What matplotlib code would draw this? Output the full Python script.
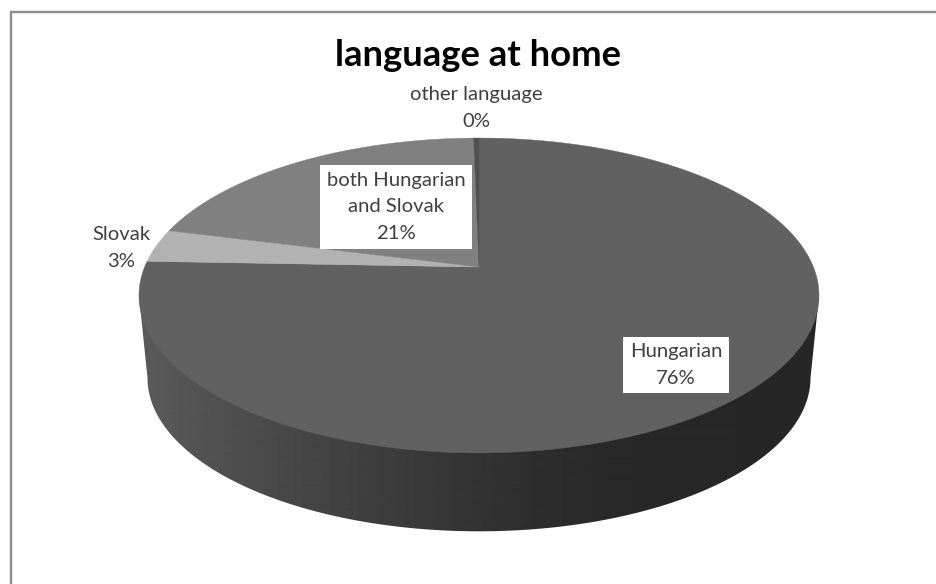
import matplotlib
matplotlib.use("Agg")
import matplotlib.pyplot as plt
import numpy as np
from matplotlib.patches import Polygon

plt.rcParams['font.family'] = ['Lato', 'DejaVu Sans']

title = "language at home"
labels = ["Hungarian", "Slovak", "both Hungarian\nand Slovak", "other language"]
values = [75.6, 3.4, 20.7, 0.3]
colors = ["#616161", "#b2b2b2", "#808080", "#505050"]

# tilted disc geometry, in pixels
CX, CY = 479, 267
K = 0.181
A, B = 152.3, 334.4
DROP, SHRINK = 83, 0.975


def rim(theta, drop=0, scale=1.0):
    # angle runs clockwise from twelve o'clock
    d = 1 + K * np.cos(theta)
    x = CX + scale * B * np.sin(theta) / d
    y = CY + drop - scale * A * np.cos(theta) / d
    return np.column_stack([x, y])


fig = plt.figure(figsize=(9.36, 5.84), dpi=100)
ax = fig.add_axes([0, 0, 1, 1])

# side wall, shaded left to right; its top edge hides under the top face
t0 = np.arccos(-K)
front = np.linspace(t0, 2 * np.pi - t0, 300)
side_pts = np.vstack([rim(front[:1]), rim(front, DROP, SHRINK), rim(front[-1:])])
px = np.arange(130, 830)
shade = np.interp(px, [145, 300, 450, 530, 620, 820], [0x5a, 0x46, 0x36, 0x2e, 0x28, 0x26])
side_clip = Polygon(side_pts, closed=True, fc="none", ec="none", transform=ax.transData)
ax.add_patch(side_clip)
im = ax.imshow(shade[np.newaxis, :], extent=[130, 830, 540, 280], aspect="auto",
               cmap="gray", vmin=0, vmax=255, interpolation="bilinear")
im.set_clip_path(side_clip)

# top face
edges = np.concatenate([[0], np.cumsum(values)]) / sum(values) * 2 * np.pi
for start, stop, c in zip(edges[:-1], edges[1:], colors):
    arc = rim(np.linspace(start, stop, 200))
    ax.add_patch(Polygon(np.vstack([[CX, CY], arc]), closed=True, fc=c, ec=c, lw=0.3))

# data labels
txt = "#404040"
kw = dict(ha="center", va="center", fontsize=14.6, color=txt, linespacing=1.68)
pct = [f"{v:.0f}%" for v in values]
box = dict(fc="white", ec="none", pad=4.7)
ax.text(676, 365, f"{labels[0]}\n{pct[0]}", bbox=box, **kw)
ax.text(121, 248, f"{labels[1]}\n{pct[1]}", **kw)
ax.text(396, 207, f"{labels[2]}\n{pct[2]}", bbox=box, **kw)
ax.text(476, 108, f"{labels[3]}\n{pct[3]}", **kw)

ax.text(478, 56, title, ha="center", va="center", fontsize=26.3, fontweight="bold", color="black")

# chart frame, only left and top are in view
ax.plot([11.2, 11.2, 936], [584, 12.2, 12.2], color="#8c8c8c", lw=1.7, solid_joinstyle="miter")

ax.set_xlim(0, 936)
ax.set_ylim(584, 0)
ax.axis("off")
fig.savefig("out.png", dpi=100, facecolor="white")
